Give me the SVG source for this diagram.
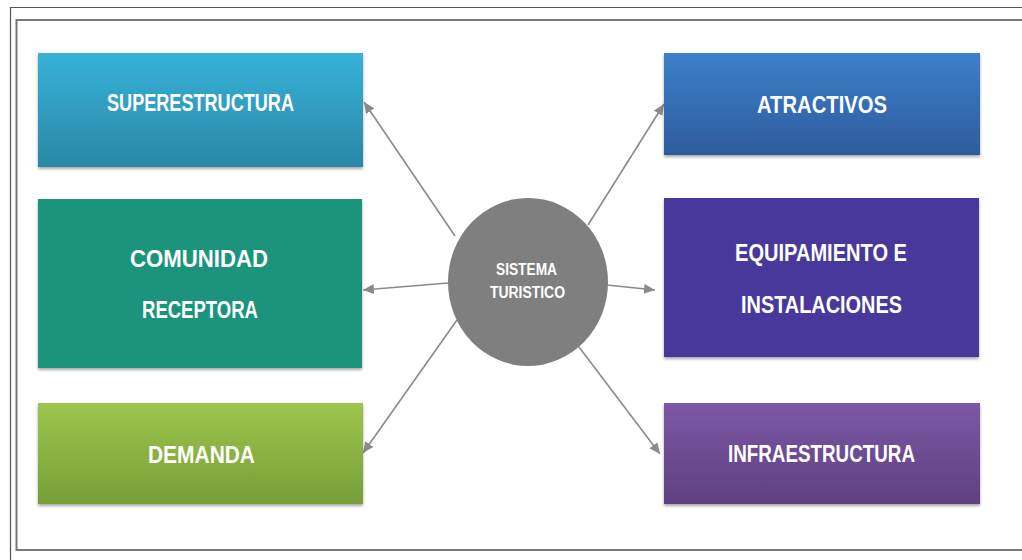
<svg xmlns="http://www.w3.org/2000/svg" width="1022" height="560" viewBox="0 0 1022 560">
  <style>
    .lbl { font-family: "Liberation Sans", Arial, sans-serif; font-weight: bold; font-size: 24px; fill: #ffffff; text-anchor: middle; }
    .clbl { font-family: "Liberation Sans", Arial, sans-serif; font-weight: bold; font-size: 16px; fill: #ffffff; text-anchor: middle; }
    .conn { stroke: #8a8a8a; stroke-width: 1.6; fill: none; marker-end: url(#arr); }
    .box { filter: url(#sh); }
  </style>
  <defs>
    <marker id="arr" markerUnits="userSpaceOnUse" markerWidth="14" markerHeight="12" refX="11" refY="5" orient="auto">
      <path d="M0,0 L11,5 L0,10 Z" fill="#8a8a8a"/>
    </marker>
    <filter id="sh" x="-5%" y="-5%" width="110%" height="120%">
      <feDropShadow dx="0" dy="2" stdDeviation="1.5" flood-color="#000" flood-opacity="0.35"/>
    </filter>
    <linearGradient id="gSup" x1="0" y1="0" x2="0" y2="1">
      <stop offset="0" stop-color="#37b2d9"/>
      <stop offset="1" stop-color="#2a87a5"/>
    </linearGradient>
    <linearGradient id="gDem" x1="0" y1="0" x2="0" y2="1">
      <stop offset="0" stop-color="#9dc64b"/>
      <stop offset="1" stop-color="#789e39"/>
    </linearGradient>
    <linearGradient id="gAtr" x1="0" y1="0" x2="0" y2="1">
      <stop offset="0" stop-color="#3c7fcb"/>
      <stop offset="1" stop-color="#2e5d9c"/>
    </linearGradient>
    <linearGradient id="gInf" x1="0" y1="0" x2="0" y2="1">
      <stop offset="0" stop-color="#7c58a6"/>
      <stop offset="1" stop-color="#5e417e"/>
    </linearGradient>
  </defs>

  <rect width="1022" height="560" fill="#ffffff"/>
  <!-- frame -->
  <path d="M10.5,562 L10.5,7.5 L1024,7.5" fill="none" stroke="#555" stroke-width="1.2"/>
  <rect x="16.5" y="20" width="1010" height="530" fill="none" stroke="#777" stroke-width="2"/>

  <g id="connectors">
    <line class="conn" x1="455" y1="236" x2="364" y2="102"/>
    <line class="conn" x1="448" y1="283" x2="363" y2="290"/>
    <line class="conn" x1="457" y1="320" x2="363" y2="453"/>
    <line class="conn" x1="588" y1="225" x2="664" y2="104"/>
    <line class="conn" x1="607" y1="285" x2="655" y2="290"/>
    <line class="conn" x1="579" y1="347" x2="660" y2="454"/>
  </g>

  <g id="superestructura">
    <rect class="box" x="38" y="53" width="325" height="114" fill="url(#gSup)"/>
    <text class="lbl" x="200.5" y="111" textLength="187" lengthAdjust="spacingAndGlyphs">SUPERESTRUCTURA</text>
  </g>
  <g id="comunidad">
    <rect class="box" x="38" y="199" width="324" height="169" fill="#1f947c"/>
    <text class="lbl" x="199" y="267" textLength="138" lengthAdjust="spacingAndGlyphs">COMUNIDAD</text>
    <text class="lbl" x="200" y="318" textLength="116" lengthAdjust="spacingAndGlyphs">RECEPTORA</text>
  </g>
  <g id="demanda">
    <rect class="box" x="38" y="403" width="325" height="101" fill="url(#gDem)"/>
    <text class="lbl" x="201.5" y="463" textLength="107" lengthAdjust="spacingAndGlyphs">DEMANDA</text>
  </g>
  <g id="atractivos">
    <rect class="box" x="664" y="53" width="316" height="102" fill="url(#gAtr)"/>
    <text class="lbl" x="822" y="113" textLength="130" lengthAdjust="spacingAndGlyphs">ATRACTIVOS</text>
  </g>
  <g id="equipamiento">
    <rect class="box" x="664" y="198" width="315" height="159" fill="#4a399c"/>
    <text class="lbl" x="821" y="261" textLength="172" lengthAdjust="spacingAndGlyphs">EQUIPAMIENTO E</text>
    <text class="lbl" x="821.5" y="313" textLength="161" lengthAdjust="spacingAndGlyphs">INSTALACIONES</text>
  </g>
  <g id="infraestructura">
    <rect class="box" x="664" y="403" width="316" height="101" fill="url(#gInf)"/>
    <text class="lbl" x="821.5" y="462" textLength="187" lengthAdjust="spacingAndGlyphs">INFRAESTRUCTURA</text>
  </g>
  <g id="sistema">
    <ellipse cx="528" cy="282" rx="80" ry="84" fill="#7f7f7f"/>
    <text class="clbl" x="526.5" y="275" textLength="61" lengthAdjust="spacingAndGlyphs">SISTEMA</text>
    <text class="clbl" x="527.5" y="298" textLength="75" lengthAdjust="spacingAndGlyphs">TURISTICO</text>
  </g>
</svg>
